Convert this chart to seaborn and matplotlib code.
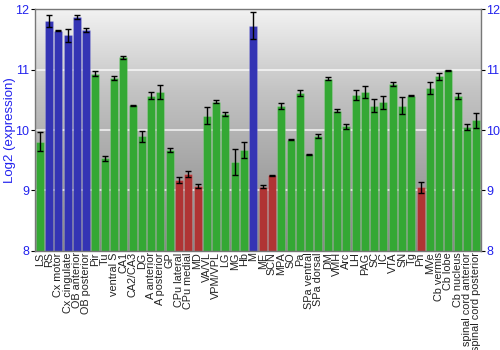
import numpy as np
import pandas as pd
import matplotlib
matplotlib.use("Agg")
import matplotlib.pyplot as plt
import seaborn as sns

regions = ["LS", "RS", "Cx motor", "Cx cingulate", "OB anterior", "OB posterior",
           "Pir", "Tu", "ventral S", "CA1", "CA2/CA3", "DG", "A anterior", "A posterior",
           "GP", "CPu lateral", "CPu medial", "MD", "VA/VL", "VPM/VPL", "LG", "MG", "Hb",
           "M", "ME", "SCN", "MPA", "SO", "Pa", "SPa ventral", "SPa dorsal", "DM", "VMH",
           "Arc", "LH", "PAG", "SC", "IC", "VTA", "SN", "Tg", "Pn", "MVe", "Cb vermis",
           "Cb lobe", "Cb nucleus", "spinal cord anterior", "spinal cord posterior"]
values = [9.81, 11.80, 11.64, 11.565, 11.87, 11.65,
          10.93, 9.535, 10.86, 11.20, 10.41, 9.90, 10.57, 10.63,
          9.67, 9.175, 9.27, 9.076, 10.24, 10.47, 10.26, 9.47, 9.67,
          11.725, 9.065, 9.25, 10.40, 9.84, 10.62, 9.60, 9.90, 10.85, 10.32,
          10.06, 10.58, 10.63, 10.40, 10.46, 10.76, 10.40, 10.57, 9.05, 10.69, 10.89,
          10.985, 10.56, 10.05, 10.16]
errors = [0.15, 0.10, 0.01, 0.11, 0.03, 0.03,
          0.04, 0.04, 0.04, 0.02, 0.01, 0.09, 0.06, 0.12,
          0.03, 0.05, 0.05, 0.03, 0.135, 0.03, 0.03, 0.21, 0.13,
          0.22, 0.02, 0.005, 0.05, 0.005, 0.05, 0.005, 0.04, 0.02, 0.02,
          0.04, 0.09, 0.10, 0.11, 0.11, 0.03, 0.14, 0.005, 0.09, 0.10, 0.06,
          0.01, 0.05, 0.05, 0.12]
groups = ["g", "b", "b", "b", "b", "b",
          "g", "g", "g", "g", "g", "g", "g", "g",
          "g", "r", "r", "r", "g", "g", "g", "g", "g",
          "b", "r", "r", "g", "g", "g", "g", "g", "g", "g",
          "g", "g", "g", "g", "g", "g", "g", "g", "r", "g", "g",
          "g", "g", "g", "g"]

df = pd.DataFrame({"region": regions, "value": values, "err": errors, "group": groups})
palette = {"b": "#3434b4", "g": "#34a834", "r": "#b03434"}

sns.set_style("white")
plt.rcParams["font.family"] = ["Liberation Sans", "DejaVu Sans"]

fig = plt.figure(figsize=(5, 3.5), dpi=100)
ax = fig.add_axes([0.07, 0.283, 0.892, 0.691])

# background gradient
grad = np.linspace(0, 1, 256).reshape(-1, 1)
cmap = matplotlib.colors.LinearSegmentedColormap.from_list("bg", ["#f2f2f2", "#c4c4c4", "#a4a4a4", "#888888"])
ax.imshow(grad, aspect="auto", cmap=cmap, extent=[0, 1, 0, 1], transform=ax.transAxes,
          zorder=0, origin="upper")

for y in [9, 10, 11]:
    ax.axhline(y, color="white", lw=1.2, alpha=0.8, zorder=1)

sns.barplot(data=df, x="region", y="value", hue="group", palette=palette, dodge=False,
            legend=False, width=0.86, saturation=1, ax=ax, zorder=2,
            edgecolor="#ffffff40", linewidth=0.4)

ax.errorbar(np.arange(len(df)), df["value"], yerr=df["err"], fmt="none", ecolor="black",
            elinewidth=1, capsize=2, capthick=1, zorder=3)

ax.set_ylim(8, 12)
ax.set_xlim(-0.5, len(df) - 0.5)
ax.set_yticks([8, 9, 10, 11, 12])
ax.set_xlabel("")
ax.set_ylabel("Log2 (expression)", color="#2222ee", fontsize=9.5)
ax.yaxis.set_label_coords(-0.042, 0.5)
ax.tick_params(axis="y", colors="black", labelcolor="#2222ee", labelsize=9, length=3,
               left=True, right=True, labelleft=True, labelright=True, direction="out", pad=1)
ax.tick_params(axis="x", labelsize=7.8, rotation=90, length=0, pad=1, labelcolor="#222222")
for s in ax.spines.values():
    s.set_color("#777777")
    s.set_linewidth(1)

fig.savefig("out.png", dpi=100)
